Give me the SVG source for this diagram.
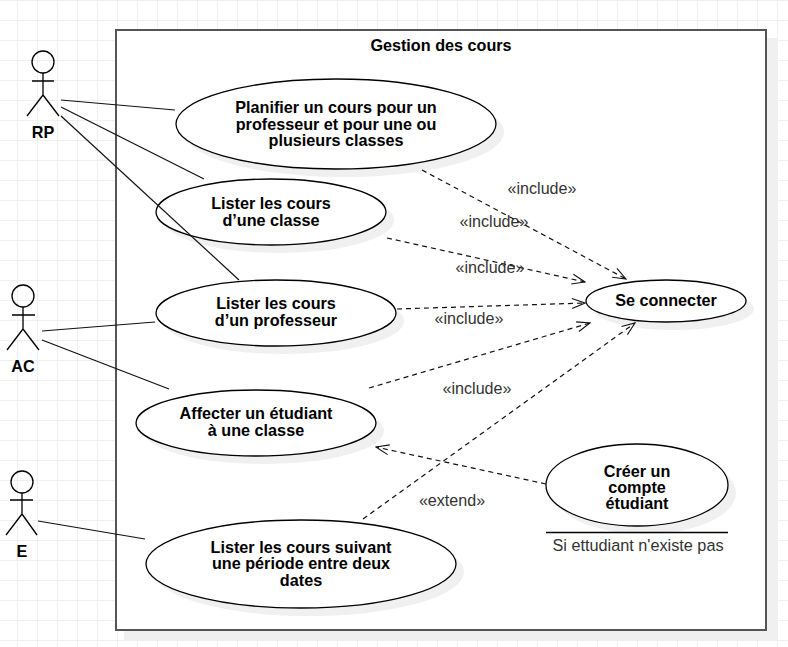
<svg xmlns="http://www.w3.org/2000/svg" width="788" height="647" viewBox="0 0 788 647">
<defs>
<pattern id="grid" width="20" height="20" patternUnits="userSpaceOnUse" x="-3" y="0">
<path d="M0.5 0V20M0 0.5H20" fill="none" stroke="#f0f0f0" stroke-width="1"/>
</pattern>
<marker id="open" viewBox="0 0 16 16" refX="15" refY="8" markerWidth="16" markerHeight="16" markerUnits="userSpaceOnUse" orient="auto-start-reverse">
<path d="M2 3L15 8L2 13" fill="none" stroke="#111" stroke-width="1.1"/>
</marker>
</defs>
<style>
text{font-family:"Liberation Sans",Arial,sans-serif;text-anchor:middle}
.b{font-weight:bold;font-size:16.200px;fill:#000}
.l{font-size:16.100px;fill:#333}
.u{fill:#fff;stroke:#000;stroke-width:1.300}
.s{fill:#f0f0f0}
.a{fill:none;stroke:#000;stroke-width:1.300}
.c{fill:none;stroke:#111;stroke-width:1.200}
.d{stroke-dasharray:5 4;marker-end:url(#open)}
</style>
<rect width="788" height="647" fill="#fff"/>
<rect width="788" height="647" fill="url(#grid)"/>
<g id="frame">
<rect x="124" y="38" width="653" height="602" fill="#f0f0f0"/>
<rect x="116" y="30" width="650" height="600" fill="#fff" stroke="#555" stroke-width="2"/>
<text class="b" x="441" y="51">Gestion des cours</text>
</g>
<g id="shadows">
<ellipse class="s" cx="344" cy="132" rx="160" ry="45"/>
<ellipse class="s" cx="279" cy="220" rx="115" ry="33"/>
<ellipse class="s" cx="284" cy="321" rx="120" ry="33"/>
<ellipse class="s" cx="264" cy="431" rx="120" ry="33"/>
<ellipse class="s" cx="309" cy="572" rx="155" ry="44"/>
<ellipse class="s" cx="674" cy="309" rx="80" ry="21"/>
<ellipse class="s" cx="645" cy="493" rx="91" ry="41"/>
</g>
<g id="uc1"><ellipse class="u" cx="336" cy="124" rx="160" ry="45"/>
<text class="b" x="336" y="113">Planifier un cours pour un</text><text class="b" x="336" y="130">professeur et pour une ou</text><text class="b" x="336" y="146">plusieurs classes</text></g>
<g id="uc2"><ellipse class="u" cx="271" cy="212" rx="115" ry="33"/>
<text class="b" x="271" y="209">Lister les cours</text><text class="b" x="271" y="226">d’une classe</text></g>
<g id="uc3"><ellipse class="u" cx="276" cy="313" rx="120" ry="33"/>
<text class="b" x="276" y="309">Lister les cours</text><text class="b" x="276" y="326">d’un professeur</text></g>
<g id="uc4"><ellipse class="u" cx="256" cy="423" rx="120" ry="33"/>
<text class="b" x="256" y="419">Affecter un étudiant</text><text class="b" x="256" y="436">à une classe</text></g>
<g id="uc5"><ellipse class="u" cx="301" cy="564" rx="155" ry="44"/>
<text class="b" x="301" y="553">Lister les cours suivant</text><text class="b" x="301" y="569">une période entre deux</text><text class="b" x="301" y="586">dates</text></g>
<g id="login"><ellipse class="u" cx="666" cy="301" rx="80" ry="21"/>
<text class="b" x="666" y="306">Se connecter</text></g>
<g id="create"><ellipse class="u" cx="637" cy="485" rx="91" ry="41"/>
<text class="b" x="637" y="477">Créer un</text><text class="b" x="637" y="493">compte</text><text class="b" x="637" y="509">étudiant</text>
<path class="a" d="M546 532.500H728"/>
<text class="l" x="638" y="551" style="font-size:16.250px">Si ettudiant n'existe pas</text></g>
<g id="connectors">
<path class="c" d="M61 100L175 110"/>
<path class="c" d="M61 107L204 179"/>
<path class="c" d="M61 116L239 280"/>
<path class="c" d="M42 331L155 322"/>
<path class="c" d="M42 340L169 389"/>
<path class="c" d="M38 521L145 539"/>
<path class="c d" d="M422 170L626 279"/>
<path class="c d" d="M387 238L585 282"/>
<path class="c d" d="M397 309L585 303"/>
<path class="c d" d="M369 388L590 323"/>
<path class="c d" d="M363 519L635 323"/>
<path class="c d" d="M546 484L376 447"/>
</g>
<g id="labels">
<text class="l" x="542" y="194">«include»</text>
<text class="l" x="494" y="227">«include»</text>
<text class="l" x="490" y="273">«include»</text>
<text class="l" x="469" y="324">«include»</text>
<text class="l" x="477" y="394">«include»</text>
<text class="l" x="452" y="506">«extend»</text>
</g>
<g id="actorRP"><circle class="a" cx="43" cy="62" r="11"/><path class="a" d="M43 73V95M32 81H54M43 95L27 116M43 95L59 116"/><text class="b" x="43" y="138">RP</text></g>
<g id="actorAC"><circle class="a" cx="23" cy="296" r="11"/><path class="a" d="M23 307V329M12 315H35M23 329L7 350M23 329L39 350"/><text class="b" x="23" y="372">AC</text></g>
<g id="actorE"><circle class="a" cx="22" cy="482" r="11"/><path class="a" d="M22 493V514M10 500H33M22 514L6 535M22 514L37 535"/><text class="b" x="22" y="557">E</text></g>
</svg>
